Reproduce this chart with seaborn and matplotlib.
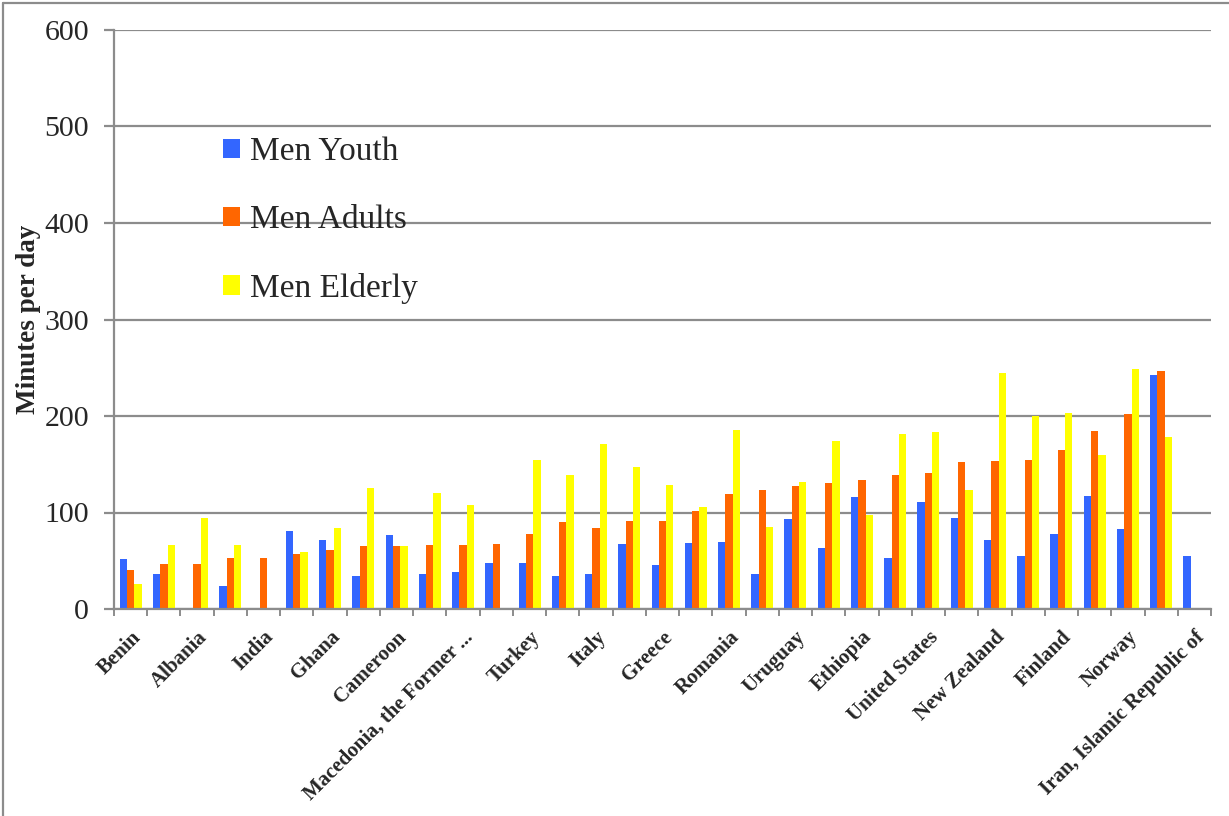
import numpy as np
import pandas as pd
import matplotlib
matplotlib.use("Agg")
import matplotlib.pyplot as plt
import seaborn as sns
from matplotlib.lines import Line2D

# 33 groups, only every other one carries a label in the original chart
tick_labels = [
    "Benin", "", "Albania", "", "India", "", "Ghana", "", "Cameroon", "",
    "Macedonia, the Former ...", "", "Turkey", "", "Italy", "", "Greece", "",
    "Romania", "", "Uruguay", "", "Ethiopia", "", "United States", "",
    "New Zealand", "", "Finland", "", "Norway", "", "Iran, Islamic Republic of",
]
groups = list(range(len(tick_labels)))

men_youth = [52, 36, np.nan, 24, np.nan, 81, 72, 34, 77, 36,
             38, 48, 48, 34, 36, 67, 46, 68, 69, 36,
             93, 63, 116, 53, 111, 94, 71, 55, 78, 117,
             83, 243, 55]
men_adults = [40, 47, 47, 53, 53, 57, 61, 65, 65, 66,
              66, 67, 78, 90, 84, 91, 91, 102, 119, 123,
              127, 131, 134, 139, 141, 152, 153, 154, 165, 184,
              202, 247, np.nan]
men_elderly = [26, 66, 94, 66, np.nan, 59, 84, 125, 65, 120,
               108, np.nan, 154, 139, 171, 147, 129, 106, 186, 85,
               132, 174, 97, 181, 183, 123, 245, 200, 203, 160,
               249, 178, np.nan]

series_names = ["Men Youth", "Men Adults", "Men Elderly"]
palette = ["#3366FF", "#FF6600", "#FFFF00"]


def main():
    df = pd.DataFrame({
        "group": groups * 3,
        "series": np.repeat(series_names, len(groups)),
        "minutes": men_youth + men_adults + men_elderly,
    })

    sns.set_style("white")
    plt.rcParams["font.family"] = ["Liberation Serif", "DejaVu Serif"]

    fig = plt.figure(figsize=(12.29, 8.16), dpi=100)
    ax = fig.add_axes([114 / 1229, 1 - 609 / 816, 1097 / 1229, 579 / 816])

    sns.barplot(data=df, x="group", y="minutes", hue="series",
                hue_order=series_names, palette=palette, order=groups,
                width=0.66, errorbar=None, saturation=1, ax=ax,
                linewidth=0)

    grid_col = "#8c8c8c"
    ax.set_ylim(0, 600)
    ax.set_xlim(-0.5, len(groups) - 0.5)
    ax.set_yticks(range(0, 601, 100))
    ax.yaxis.grid(True, color=grid_col, linewidth=1.6)
    ax.set_axisbelow(True)
    for s in ["top", "right"]:
        ax.spines[s].set_visible(False)
    for s in ["left", "bottom"]:
        ax.spines[s].set_color(grid_col)
        ax.spines[s].set_linewidth(1.6)

    ax.tick_params(axis="y", direction="out", length=7, width=1.6,
                   color=grid_col, labelsize=21.5, pad=11, left=True)
    ax.set_xticks(groups)
    ax.set_xticklabels(tick_labels, rotation=45, ha="right",
                       rotation_mode="anchor", fontsize=15,
                       fontweight="bold")
    ax.set_xticks(np.arange(-0.5, len(groups), 1.0), minor=True)
    ax.tick_params(axis="x", which="major", length=0, pad=13)
    ax.tick_params(axis="x", which="minor", direction="out", length=5,
                   width=1.4, color=grid_col, bottom=True)

    ax.set_xlabel("")
    ax.set_ylabel("Minutes per day", fontsize=19.5, fontweight="bold")
    ax.yaxis.set_label_coords(-0.067, 0.5)

    handles, labels = ax.get_legend_handles_labels()
    ax.legend(handles, labels, loc="upper left",
              bbox_to_anchor=(223 / 1229, 1 - 137 / 816),
              bbox_transform=fig.transFigure, frameon=False, fontsize=24,
              handlelength=0.52, handleheight=0.52, handletextpad=0.3,
              labelspacing=1.12, borderpad=0, borderaxespad=0)

    # outer frame of the chart area
    fig.add_artist(Line2D([3 / 1229, 3 / 1229], [0, 1 - 3 / 816],
                          transform=fig.transFigure, color=grid_col, lw=1.6))
    fig.add_artist(Line2D([3 / 1229, 1], [1 - 3 / 816, 1 - 3 / 816],
                          transform=fig.transFigure, color=grid_col, lw=1.6))

    fig.savefig("out.png", dpi=100)


if __name__ == "__main__":
    main()
